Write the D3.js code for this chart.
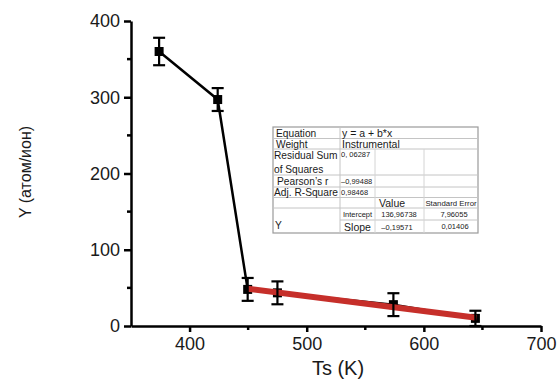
<!DOCTYPE html>
<html>
<head>
<meta charset="utf-8">
<script src="https://cdnjs.cloudflare.com/ajax/libs/d3/7.8.5/d3.min.js"></script>
<style>
  body { margin: 0; background: #fff; }
  text { font-family: "Liberation Sans", Arial, sans-serif; fill: #1a1a1a; }
</style>
</head>
<body>
<div id="chart"></div>
<script>
// measured points
var ts = [374, 424, 449.6, 475, 574, 644];
var yVal = [360, 297, 48, 43.5, 28, 10];
var yErr = [18, 15, 15, 15, 15, 10];

// linear fit from the table
var fitA = 136.96738, fitB = -0.19571;
var fitRange = [449.6, 645];

var xTicks = [400, 500, 600, 700];
var xMinor = [450, 550, 650];
var yTicks = [0, 100, 200, 300, 400];
var yMinor = [50, 150, 250, 350];

// table content
var tableRows = [
  ["Equation", "y = a + b*x"],
  ["Weight", "Instrumental"],
  ["Residual Sum|of Squares", "0, 06287", "", ""],
  ["Pearson\u2019s r", "\u20130,99488", "", ""],
  ["Adj. R-Square", "0,98468", "", ""],
  ["", "", "Value", "Standard Error"],
  ["Y", "Intercept", "136,96738", "7,96055"],
  ["", "Slope", "\u20130,19571", "0,01406"]
];

var W = 560, H = 380;
var svg = d3.select("#chart").append("svg")
  .attr("width", W)
  .attr("height", H);

var x = d3.scaleLinear().domain([350, 700]).range([131, 541]);
var y = d3.scaleLinear().domain([0, 400]).range([326, 21]);

// axes
var xAxis = svg.append("g")
  .attr("transform", "translate(0," + y(0) + ")")
  .call(d3.axisBottom(x).tickValues(xTicks).tickSize(6).tickSizeOuter(0).tickPadding(5));
xAxis.selectAll(".tick text").style("font-size", "18px").attr("fill", "#1a1a1a");
xAxis.append("g").selectAll("line")
  .data(xMinor)
  .enter()
  .append("line")
  .attr("x1", function(d) { return x(d) })
  .attr("x2", function(d) { return x(d) })
  .attr("y1", 0)
  .attr("y2", 4)
  .attr("stroke", "#000")
  .attr("stroke-width", 2.5);

var yAxis = svg.append("g")
  .attr("transform", "translate(" + x(350) + ",0)")
  .call(d3.axisLeft(y).tickValues(yTicks).tickSize(7).tickSizeOuter(0).tickPadding(4));
yAxis.selectAll(".tick text").style("font-size", "18px").attr("fill", "#1a1a1a");
yAxis.append("g").selectAll("line")
  .data(yMinor)
  .enter()
  .append("line")
  .attr("y1", function(d) { return y(d) })
  .attr("y2", function(d) { return y(d) })
  .attr("x1", 0)
  .attr("x2", -4)
  .attr("stroke", "#000")
  .attr("stroke-width", 2.5);

svg.selectAll(".domain").attr("stroke-width", 2.5).attr("stroke", "#000");
svg.selectAll(".tick line").attr("stroke-width", 2.5).attr("stroke", "#000");

// axis titles
svg.append("text")
  .attr("x", 338)
  .attr("y", 375)
  .attr("text-anchor", "middle")
  .style("font-size", "20px")
  .text("Ts (K)");

svg.append("text")
  .attr("transform", "translate(31,172) rotate(-90)")
  .attr("text-anchor", "middle")
  .style("font-size", "16px")
  .text("Y (атом/ион)");

// data line
var pts = ts.map(function(d, i) { return [d, yVal[i]] });
var line = d3.line()
  .x(function(d) { return x(d[0]) })
  .y(function(d) { return y(d[1]) });

svg.append("path")
  .datum(pts)
  .attr("d", line)
  .attr("fill", "none")
  .attr("stroke", "#000")
  .attr("stroke-width", 2.5);

// markers
svg.append("g").selectAll("rect")
  .data(pts)
  .enter()
  .append("rect")
  .attr("x", function(d) { return x(d[0]) - 4.5 })
  .attr("y", function(d) { return y(d[1]) - 4.5 })
  .attr("width", 9)
  .attr("height", 9)
  .attr("fill", "#000");

// fit line
svg.append("line")
  .attr("x1", x(fitRange[0]))
  .attr("y1", y(fitA + fitB * fitRange[0]))
  .attr("x2", x(fitRange[1]))
  .attr("y2", y(fitA + fitB * fitRange[1]))
  .attr("stroke", "#c62f2a")
  .attr("stroke-width", 6)
  .attr("stroke-linecap", "butt");

// error bars
var eb = svg.append("g").attr("stroke", "#000").attr("stroke-width", 2.2);
pts.forEach(function(d, i) {
  var cx = x(d[0]);
  var top = y(d[1] + yErr[i]), bot = y(d[1] - yErr[i]);
  eb.append("line").attr("x1", cx).attr("x2", cx).attr("y1", top).attr("y2", bot);
  eb.append("line").attr("x1", cx - 6).attr("x2", cx + 6).attr("y1", top).attr("y2", top);
  eb.append("line").attr("x1", cx - 6).attr("x2", cx + 6).attr("y1", bot).attr("y2", bot);
});

// stats table
var colX = [273, 340, 375, 424, 478];
var rowY = [127, 138.5, 149, 175, 187, 197.5, 208, 220, 233];
var tbl = svg.append("g");

tbl.append("rect")
  .attr("x", colX[0])
  .attr("y", rowY[0])
  .attr("width", colX[4] - colX[0])
  .attr("height", rowY[8] - rowY[0])
  .attr("fill", "#fff")
  .attr("stroke", "#9a9a9a")
  .attr("stroke-width", 1.2);

// horizontal rules
tbl.selectAll("hl")
  .data(rowY.slice(1, 8))
  .enter()
  .append("line")
  .attr("x1", function(d, i) { return i == 6 ? colX[1] : colX[0] })
  .attr("x2", colX[4])
  .attr("y1", function(d) { return d })
  .attr("y2", function(d) { return d })
  .attr("stroke", "#c4c4c4")
  .attr("stroke-width", 1);

// vertical rules
tbl.append("line").attr("x1", colX[1]).attr("x2", colX[1]).attr("y1", rowY[0]).attr("y2", rowY[8])
  .attr("stroke", "#c4c4c4");
[colX[2], colX[3]].forEach(function(cx) {
  tbl.append("line").attr("x1", cx).attr("x2", cx).attr("y1", rowY[2]).attr("y2", rowY[8])
    .attr("stroke", "#d4d4d4");
});

function cell(txt, xx, yy, size, anchor) {
  tbl.append("text")
    .attr("x", xx)
    .attr("y", yy)
    .attr("text-anchor", anchor || "start")
    .style("font-size", size + "px")
    .text(txt);
}

// label column
cell(tableRows[0][0], 276, 137, 10.2);
cell(tableRows[1][0], 276, 147.5, 10.2);
var rs = tableRows[2][0].split("|");
cell(rs[0], 274, 159, 10.2);
cell(rs[1], 274, 172.5, 10.2);
cell(tableRows[3][0], 277, 185, 10.2);
cell(tableRows[4][0], 274, 196, 10.2);
cell(tableRows[6][0], 275, 229, 10.2);

// value columns
cell(tableRows[0][1], 342, 136.5, 10.5);
cell(tableRows[1][1], 342, 147.5, 10.5);
cell(tableRows[2][1], 341, 157, 7.5);
cell(tableRows[3][1], 341, 183.5, 7.5);
cell(tableRows[4][1], 341, 195, 7.5);
cell(tableRows[5][2], 379, 206.5, 10.5);
cell(tableRows[5][3], 451, 206, 7.8, "middle");
cell(tableRows[6][1], 357.5, 217, 7.5, "middle");
cell(tableRows[6][2], 399, 217, 7.5, "middle");
cell(tableRows[6][3], 454, 217, 7.5, "middle");
cell(tableRows[7][1], 357.5, 231, 10.5, "middle");
cell(tableRows[7][2], 397, 230, 7.5, "middle");
cell(tableRows[7][3], 455, 229, 7.5, "middle");
</script>
</body>
</html>
